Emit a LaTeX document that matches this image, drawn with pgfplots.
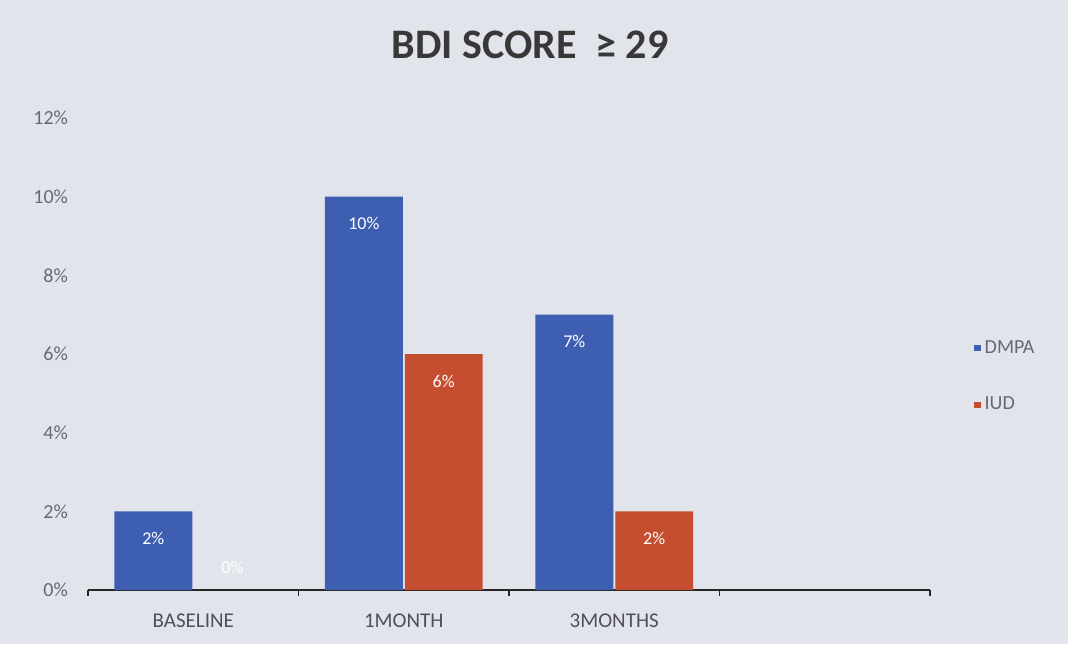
\documentclass[border=0pt]{standalone}
\usepackage{pgfplots}
\pgfplotsset{compat=1.18}
\usepackage{fontspec}
\setmainfont{Carlito}
\definecolor{bg}{RGB}{226,228,236}
\definecolor{dmpa}{RGB}{62,94,178}
\definecolor{iud}{RGB}{198,78,48}
\definecolor{lab}{RGB}{105,105,112}
\definecolor{xlab}{RGB}{80,80,86}
\begin{document}
\begin{tikzpicture}
\fill[bg] (-44pt,-27pt) rectangle (490pt,295pt);
\begin{axis}[at={(0,0)}, anchor=south west, scale only axis,
  width=421pt, height=236pt,
  ybar=1pt, bar width=0.37,
  xmin=-0.5, xmax=3.5, ymin=0, ymax=12,
  axis lines*=left,
  y axis line style={draw=none},
  x axis line style={line width=1pt, black!85, -},
  /pgf/number format/assume math mode=true,
  ytick={0,2,...,12},
  yticklabel={\pgfmathprintnumber{\tick}\%},
  ytick style={draw=none},
  yticklabel style={font=\fontsize{10}{12}\selectfont, text=lab, xshift=-6.5pt},
  xtick={0,1,2}, xticklabels={BASELINE,1MONTH,3MONTHS},
  xtick style={draw=none},
  xticklabel style={font=\fontsize{10.5}{12}\selectfont, text=xlab, yshift=-4pt},
  extra x ticks={-0.5,0.5,1.5,2.5,3.5}, extra x tick labels={},
  extra x tick style={xtick style={draw=black!85, line width=0.8pt}, major tick length=3pt, tick align=outside},
  nodes near coords={\pgfmathprintnumber{\pgfplotspointmeta}\%},
  nodes near coords style={font=\fontsize{9}{10}\selectfont, text=white, anchor=center, yshift=-13.5pt},
  title={BDI SCORE \ ≥ 29},
  title style={font=\bfseries\fontsize{21}{24}\selectfont, text=black!78, at={(0.525,1)}, anchor=center, yshift=30.5pt},
  legend style={at={(1.045,0.452)}, anchor=west, draw=none, fill=none, font=\fontsize{10}{12}\selectfont, text=lab, row sep=16.5pt, legend cell align=left},
  legend image code/.code={\fill[#1] (0pt,-1.6pt) rectangle (3.2pt,1.6pt);},
]
\addplot[fill=dmpa, draw=none] coordinates {(0,2) (1,10) (2,7)};
\addplot[fill=iud, draw=none] coordinates {(1,6) (2,2)};
\legend{DMPA,IUD}
\node[font=\fontsize{9}{10}\selectfont, text=white] at (axis cs:0.186,0.58) {0\%};
\end{axis}
\end{tikzpicture}
\end{document}
